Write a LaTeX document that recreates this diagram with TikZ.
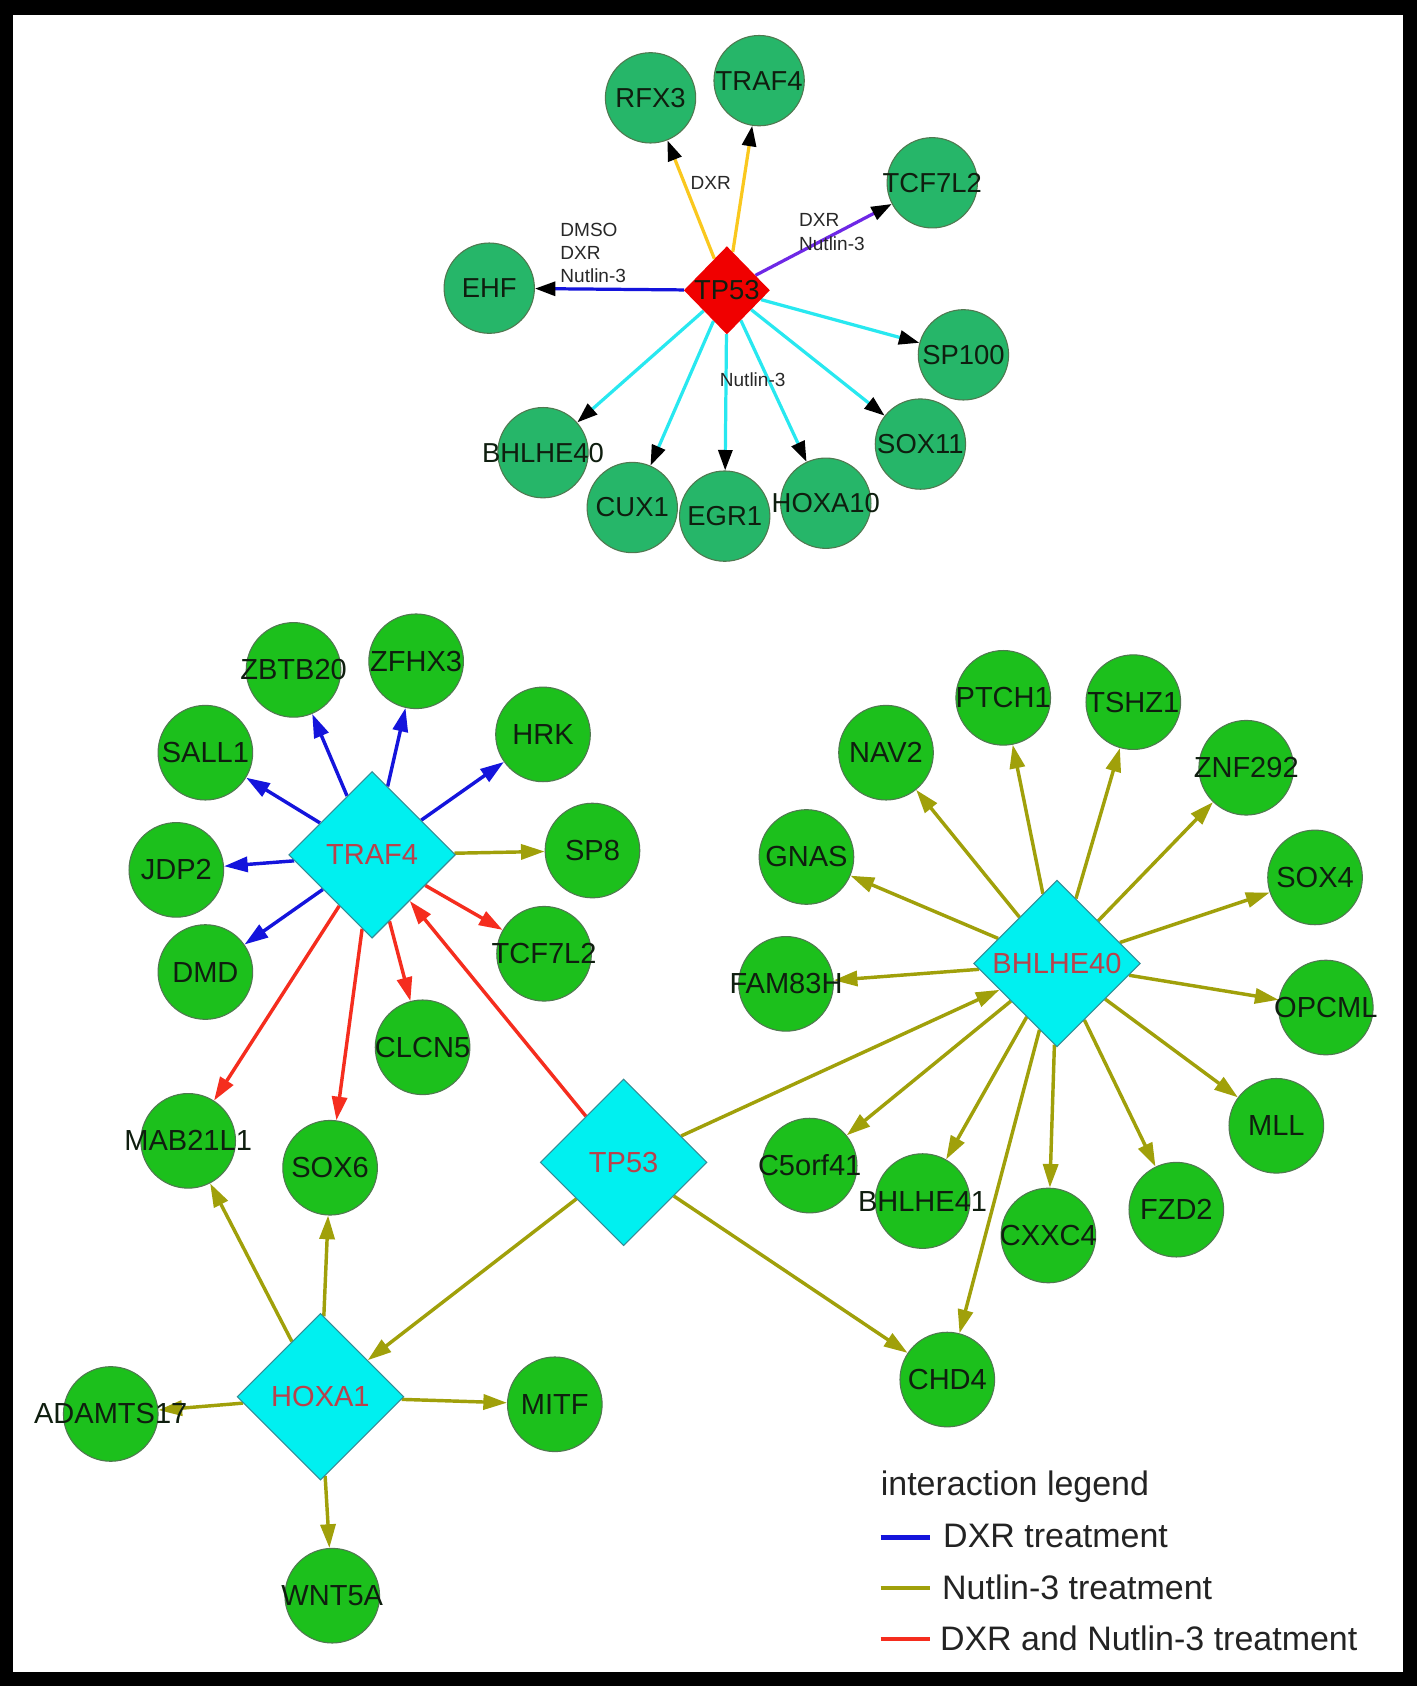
\documentclass[tikz,border=0pt]{standalone}
\usepackage{fontspec}
\setmainfont{Liberation Sans}
\usetikzlibrary{shapes.geometric,arrows.meta}
\definecolor{gbot}{RGB}{28,192,28}
\definecolor{gtop}{RGB}{38,182,105}
\definecolor{gline}{RGB}{80,120,80}
\definecolor{cyanD}{RGB}{0,240,240}
\definecolor{cline}{RGB}{50,140,150}
\definecolor{redD}{RGB}{240,0,0}
\definecolor{lbtext}{RGB}{15,30,15}
\definecolor{dtext}{RGB}{185,65,75}
\definecolor{etext}{RGB}{40,40,40}
\definecolor{legtext}{RGB}{35,35,35}
\definecolor{oliveE}{RGB}{160,160,10}
\definecolor{blueE}{RGB}{20,20,220}
\definecolor{redE}{RGB}{245,45,30}
\definecolor{yelE}{RGB}{250,200,30}
\definecolor{purE}{RGB}{110,40,230}
\definecolor{cyanE}{RGB}{40,232,240}
\pgfdeclarelayer{frame}
\pgfdeclarelayer{bg}
\pgfsetlayers{frame,bg,main}
\tikzset{
 gc/.style={circle,draw=gline,line width=1pt,fill=gbot,minimum size=88pt,inner sep=0pt},
 tc/.style={circle,draw=gline,line width=1pt,fill=gtop,minimum size=84pt,inner sep=0pt},
 cd/.style={diamond,draw=cline,line width=1pt,fill=cyanD,minimum width=155pt,minimum height=155pt,inner sep=0pt},
 rd/.style={diamond,fill=redD,minimum width=80pt,minimum height=82pt,inner sep=0pt},
 bl/.style={font=\fontsize{27}{30}\selectfont,text=lbtext},
 dl/.style={font=\fontsize{27}{30}\selectfont,text=dtext},
 tl/.style={font=\fontsize{25.5}{28}\selectfont,text=lbtext},
 el/.style={font=\fontsize{17.7}{20}\selectfont,text=etext,inner sep=0pt},
 lg/.style={font=\fontsize{31.6}{34}\selectfont,text=legtext,inner sep=0pt},
 eb/.style={line width=3.2pt,-{Triangle[length=22pt,width=14pt]}},
 et/.style={line width=3pt,-{Triangle[length=19pt,width=13pt,color=black]}},
 legline/.style={line width=4pt}
}
\begin{document}
\begin{tikzpicture}[x=1pt,y=-1pt]
\useasboundingbox (0,0) rectangle (1318,1568);
\begin{pgfonlayer}{frame}
\fill[black] (0,0) rectangle (1318,1568);
\fill[white] (12,14) rectangle (1305,1555);
\end{pgfonlayer}

% ---------- top network ----------
\node[rd,label={[tl]center:TP53}] (tpA) at (676,270) {};
\node[tc,label={[tl]center:RFX3}] (rfx3) at (605,91) {};
\node[tc,label={[tl]center:TRAF4}] (traf4t) at (706,75) {};
\node[tc,label={[tl]center:TCF7L2}] (tcf7l2t) at (867,170) {};
\node[tc,label={[tl]center:EHF}] (ehf) at (455,268) {};
\node[tc,label={[tl]center:SP100}] (sp100) at (896,330) {};
\node[tc,label={[tl]center:SOX11}] (sox11) at (856,413) {};
\node[tc,label={[tl]center:HOXA10}] (hoxa10) at (768,468) {};
\node[tc,label={[tl]center:EGR1}] (egr1) at (674,480) {};
\node[tc,label={[tl]center:CUX1}] (cux1) at (588,472) {};
\node[tc,label={[tl]center:BHLHE40}] (bhlheT) at (505,421) {};

\begin{pgfonlayer}{bg}
\draw[et,yelE] (tpA) -- (rfx3);
\draw[et,yelE] (tpA) -- (traf4t);
\draw[et,purE] (tpA) -- (tcf7l2t);
\draw[et,blueE] (tpA) -- (ehf);
\draw[et,cyanE] (tpA) -- (sp100);
\draw[et,cyanE] (tpA) -- (sox11);
\draw[et,cyanE] (tpA) -- (hoxa10);
\draw[et,cyanE] (tpA) -- (egr1);
\draw[et,cyanE] (tpA) -- (cux1);
\draw[et,cyanE] (tpA) -- (bhlheT);
\end{pgfonlayer}

\node[el] (eDXR) at (661,170) {DXR};
\node[el,anchor=west] (eDMSO1) at (521,214) {DMSO};
\node[el,anchor=west] (eDMSO2) at (521,235) {DXR};
\node[el,anchor=west] (eDMSO3) at (521,256) {Nutlin-3};
\node[el,anchor=west] (eDN1) at (743,205) {DXR};
\node[el,anchor=west] (eDN2) at (743,227) {Nutlin-3};
\node[el] (eNut) at (700,353) {Nutlin-3};

% ---------- bottom network ----------
\node[cd,label={[dl]center:TRAF4}] (trafB) at (346,795) {};
\node[cd,label={[dl]center:TP53}] (tp53B) at (580,1081) {};
\node[cd,label={[dl]center:HOXA1}] (hoxa1) at (298,1299) {};
\node[cd,label={[dl]center:BHLHE40}] (bhlheB) at (983,896) {};

\node[gc,label={[bl]center:ZBTB20}] (zbtb20) at (273,623) {};
\node[gc,label={[bl]center:ZFHX3}] (zfhx3) at (387,615) {};
\node[gc,label={[bl]center:SALL1}] (sall1) at (191,700) {};
\node[gc,label={[bl]center:HRK}] (hrk) at (505,683) {};
\node[gc,label={[bl]center:JDP2}] (jdp2) at (164,809) {};
\node[gc,label={[bl]center:SP8}] (sp8) at (551,791) {};
\node[gc,label={[bl]center:DMD}] (dmd) at (191,904) {};
\node[gc,label={[bl]center:TCF7L2}] (tcf7l2B) at (506,887) {};
\node[gc,label={[bl]center:CLCN5}] (clcn5) at (393,974) {};
\node[gc,label={[bl]center:MAB21L1}] (mab21l1) at (175,1061) {};
\node[gc,label={[bl]center:SOX6}] (sox6) at (307,1086) {};
\node[gc,label={[bl]center:ADAMTS17}] (adamts17) at (103,1315) {};
\node[gc,label={[bl]center:MITF}] (mitf) at (516,1306) {};
\node[gc,label={[bl]center:WNT5A}] (wnt5a) at (309,1484) {};
\node[gc,label={[bl]center:GNAS}] (gnas) at (750,797) {};
\node[gc,label={[bl]center:NAV2}] (nav2) at (824,700) {};
\node[gc,label={[bl]center:PTCH1}] (ptch1) at (933,649) {};
\node[gc,label={[bl]center:TSHZ1}] (tshz1) at (1054,653) {};
\node[gc,label={[bl]center:ZNF292}] (znf292) at (1159,714) {};
\node[gc,label={[bl]center:SOX4}] (sox4) at (1223,816) {};
\node[gc,label={[bl]center:OPCML}] (opcml) at (1233,937) {};
\node[gc,label={[bl]center:MLL}] (mll) at (1187,1047) {};
\node[gc,label={[bl]center:FZD2}] (fzd2) at (1094,1125) {};
\node[gc,label={[bl]center:CXXC4}] (cxxc4) at (975,1149) {};
\node[gc,label={[bl]center:BHLHE41}] (bhlhe41) at (858,1117) {};
\node[gc,label={[bl]center:C5orf41}] (c5orf41) at (753,1084) {};
\node[gc,label={[bl]center:CHD4}] (chd4) at (881,1283) {};
\node[gc,label={[bl]center:FAM83H}] (fam83h) at (731,915) {};

\begin{pgfonlayer}{bg}
\draw[eb,blueE] (trafB) -- (zbtb20);
\draw[eb,blueE] (trafB) -- (zfhx3);
\draw[eb,blueE] (trafB) -- (sall1);
\draw[eb,blueE] (trafB) -- (hrk);
\draw[eb,blueE] (trafB) -- (jdp2);
\draw[eb,blueE] (trafB) -- (dmd);
\draw[eb,oliveE] (trafB) -- (sp8);
\draw[eb,redE] (trafB) -- (tcf7l2B);
\draw[eb,redE] (trafB) -- (clcn5);
\draw[eb,redE] (trafB) -- (mab21l1);
\draw[eb,redE] (trafB) -- (sox6);
\draw[eb,redE] (tp53B) -- (trafB);
\draw[eb,oliveE] (tp53B) -- (bhlheB);
\draw[eb,oliveE] (tp53B) -- (hoxa1);
\draw[eb,oliveE] (tp53B) -- (chd4);
\draw[eb,oliveE] (hoxa1) -- (mab21l1);
\draw[eb,oliveE] (hoxa1) -- (sox6);
\draw[eb,oliveE] (hoxa1) -- (adamts17);
\draw[eb,oliveE] (hoxa1) -- (mitf);
\draw[eb,oliveE] (hoxa1) -- (wnt5a);
\foreach \t in {gnas,nav2,ptch1,tshz1,znf292,sox4,opcml,mll,fzd2,cxxc4,chd4,bhlhe41,c5orf41,fam83h}
  \draw[eb,oliveE] (bhlheB) -- (\t);
\end{pgfonlayer}

% ---------- legend ----------
\node[lg,anchor=west] (legT) at (819,1383) {interaction legend};
\coordinate (lb1) at (819,1430);
\coordinate (lb2) at (865,1430);
\draw[legline,blueE] (lb1) -- (lb2);
\node[lg,anchor=west] (leg1) at (877,1428) {DXR treatment};
\coordinate (lo1) at (819,1477);
\coordinate (lo2) at (865,1477);
\draw[legline,oliveE] (lo1) -- (lo2);
\node[lg,anchor=west] (leg2) at (876,1476) {Nutlin-3 treatment};
\coordinate (lr1) at (819,1524);
\coordinate (lr2) at (865,1524);
\draw[legline,redE] (lr1) -- (lr2);
\node[lg,anchor=west] (leg3) at (874,1524) {DXR and Nutlin-3 treatment};
\end{tikzpicture}
\end{document}
